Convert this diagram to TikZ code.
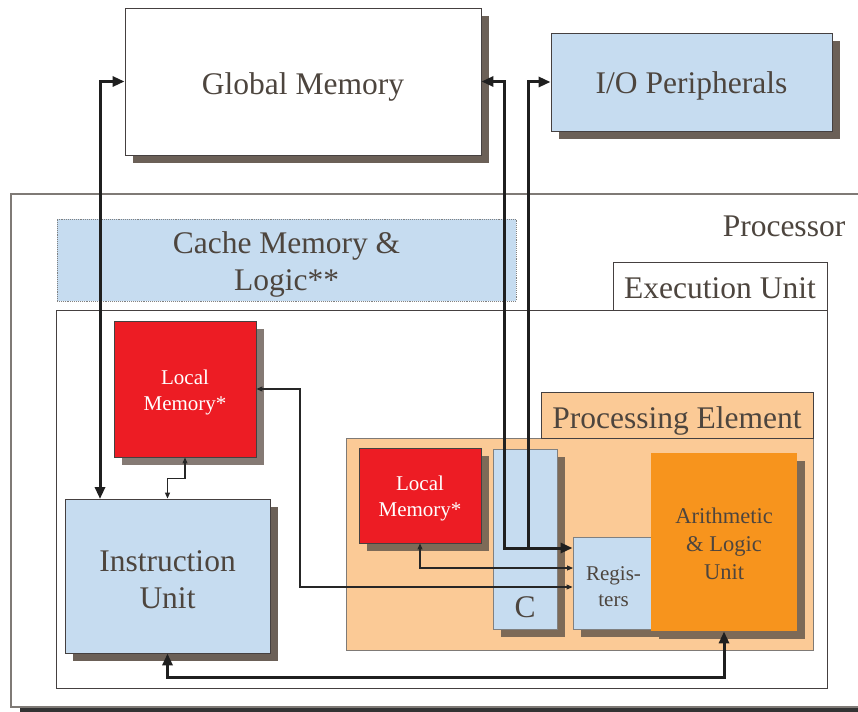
\documentclass[tikz,border=0pt]{standalone}
\usepackage{fontspec}
\setmainfont{Liberation Serif}
\usetikzlibrary{arrows.meta,shadows}

\definecolor{txt}{HTML}{4D453E}
\definecolor{paleblue}{HTML}{C6DCF0}
\definecolor{memred}{HTML}{ED1C24}
\definecolor{aluorange}{HTML}{F7941D}
\definecolor{peach}{HTML}{FBCA96}
\definecolor{shadowA}{HTML}{6B6057}
\definecolor{shadowB}{HTML}{857A74}
\definecolor{shadowC}{HTML}{7D6A57}
\definecolor{edge}{HTML}{454040}
\definecolor{frame}{HTML}{7F7A76}

\tikzset{
  big/.style={font=\fontsize{31.5}{37}\selectfont},
  small/.style={font=\fontsize{21}{26}\selectfont},
  mid/.style={font=\fontsize{22.5}{28}\selectfont},
  block/.style={rectangle, inner sep=0pt, draw=edge, line width=0.9pt,
    text=txt, align=center},
  % caption placed in the middle of a box, set slightly low
  boxtext/.style={text=txt, align=center, yshift=-4pt},
  shade/.style={drop shadow={shadow xshift=8pt, shadow yshift=-8pt,
    fill=#1, opacity=1}},
  bus/.style={line width=3pt, draw=black!88, line join=miter,
    >={Triangle[length=12pt,width=10pt]}},
  wire/.style={line width=1.1pt, draw=black!85,
    >={Triangle[length=6pt,width=5pt]}},
}

\begin{document}
\begin{tikzpicture}[x=1pt, y=-1pt]
\useasboundingbox (0,0) rectangle (858,711);
\clip (0,0) rectangle (858,711);

% processor frame, running past the right edge
\node[block, draw=frame, line width=1.4pt, fill=white,
  drop shadow={shadow xshift=9pt, shadow yshift=-9pt, fill=black!80, opacity=1},
  minimum width=869pt, minimum height=513pt] (proc) at (445.5,450.5) {};
\node[big, text=txt] (proclbl) at (784,226) {Processor};

% cache
\node[block, draw=gray, densely dotted, fill=paleblue,
  minimum width=459pt, minimum height=82pt,
  label={[boxtext, big]center:{Cache Memory \&\\Logic**}}] (cache) at (286.5,260) {};

% execution unit
\node[block, fill=white, minimum width=771pt, minimum height=378pt]
  (exec) at (441.5,499) {};
\node[block, fill=white, minimum width=214pt, minimum height=48pt,
  label={[boxtext, big, yshift=2pt]center:{Execution Unit}}] (execlbl) at (720,286) {};

% global memory and I/O
\node[block, fill=white, shade=shadowA,
  minimum width=356pt, minimum height=147pt,
  label={[boxtext, big, yshift=-1pt]center:{Global Memory}}] (gm) at (303,81.5) {};
\node[block, fill=paleblue, shade=shadowA,
  minimum width=281pt, minimum height=98pt,
  label={[boxtext, big]center:{I/O Peripherals}}] (io) at (691.5,82) {};

% local memory of the instruction unit
\node[block, fill=memred, shade=shadowB,
  minimum width=142pt, minimum height=136pt,
  label={[boxtext, small, text=white, yshift=1pt]center:{Local\\Memory*}}] (lm1) at (185,389) {};

% instruction unit
\node[block, fill=paleblue, shade=shadowA,
  minimum width=205pt, minimum height=154pt,
  label={[boxtext, big]center:{Instruction\\Unit}}] (iu) at (167.5,576) {};

% processing element
\node[block, draw=frame, fill=peach,
  minimum width=467pt, minimum height=212pt] (pe) at (579.5,544) {};
\node[block, fill=peach, minimum width=272pt, minimum height=46pt,
  label={[boxtext, big, yshift=-2pt]center:{Processing Element}}] (pelbl) at (677,415) {};

\node[block, fill=memred, shade=shadowC,
  minimum width=122pt, minimum height=95pt,
  label={[boxtext, small, text=white, yshift=1pt]center:{Local\\Memory*}}] (lm2) at (420,495.5) {};

\node[block, draw=gray, fill=paleblue, shade=shadowC,
  minimum width=64pt, minimum height=180pt] (cbox) at (525,539) {};
\node[big, text=txt] (ctext) at (525,607) {C};

\node[block, draw=gray, fill=paleblue, shade=shadowC,
  minimum width=79pt, minimum height=92pt,
  label={[boxtext, small, xshift=1pt]center:{Regis-\\ters}}] (reg) at (612.5,583) {};

\node[block, draw=none, fill=aluorange, shade=shadowC,
  minimum width=146pt, minimum height=178pt,
  label={[boxtext, mid, yshift=2pt]center:{Arithmetic\\\& Logic\\Unit}}] (alu) at (724,542) {};

% connector bends
\coordinate (lb) at (100,499);
\coordinate (j1) at (504,548);
\coordinate (j2) at (528,548);
\coordinate (t1) at (300,587);
\coordinate (t2) at (573,568);
\coordinate (b1) at (167.5,677);

% buses
\draw[bus,<->] (gm.west) -| (lb);
\draw[bus,<->] (gm.east) -| (j1) -- (reg.west |- j1);
\draw[bus,<-] (io.west) -| (j2);
\draw[bus,<->] (iu.south) -- (b1) -| (alu.south);

% local connections
\draw[wire,<->] (lm1.south) -- ++(0,21) -| (iu.north);
\draw[wire,<->] (lm1.east) -| (t1) -- (t1 -| reg.west);
\draw[wire,<->] (lm2.south) |- (t2);
\end{tikzpicture}
\end{document}
